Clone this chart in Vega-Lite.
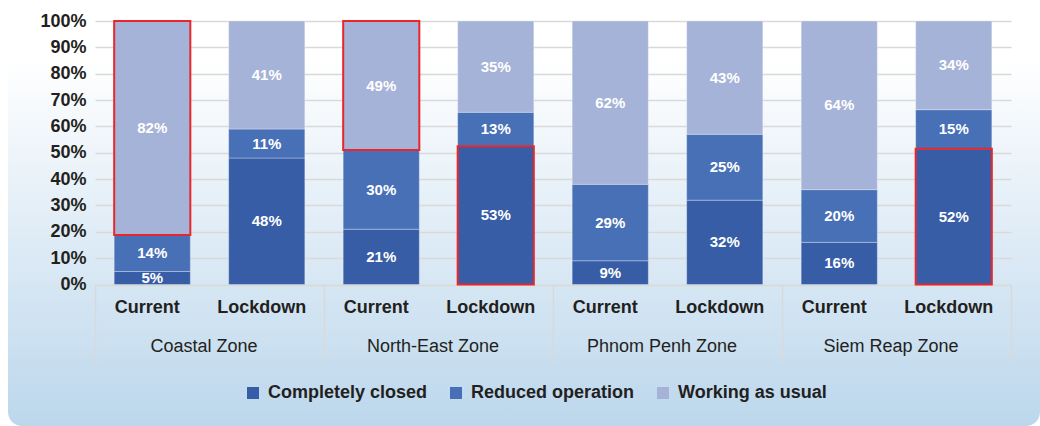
{
  "$schema": "https://vega.github.io/schema/vega-lite/v6.json",
  "width": 1032,
  "height": 426,
  "autosize": {"type": "none"},
  "padding": {"left": 8, "top": 0, "right": 0, "bottom": 0},
  "background": "#ffffff",
  "config": {
    "font": "Liberation Sans",
    "view": {
      "stroke": null,
      "cornerRadius": 14,
      "fill": {
        "gradient": "linear", "x1": 0, "y1": 0, "x2": 0, "y2": 1,
        "stops": [
          {"offset": 0, "color": "#ffffff"},
          {"offset": 0.14, "color": "#ffffff"},
          {"offset": 1, "color": "#bcd7ec"}
        ]
      }
    }
  },
  "data": {
    "values": [
      {"zone": "Coastal Zone", "type": "Current", "key": "Coastal Zone|Current", "status": "Completely closed", "share": 0.05, "hl": false},
      {"zone": "Coastal Zone", "type": "Current", "key": "Coastal Zone|Current", "status": "Reduced operation", "share": 0.14, "hl": false},
      {"zone": "Coastal Zone", "type": "Current", "key": "Coastal Zone|Current", "status": "Working as usual", "share": 0.82, "hl": true},
      {"zone": "Coastal Zone", "type": "Lockdown", "key": "Coastal Zone|Lockdown", "status": "Completely closed", "share": 0.48, "hl": false},
      {"zone": "Coastal Zone", "type": "Lockdown", "key": "Coastal Zone|Lockdown", "status": "Reduced operation", "share": 0.11, "hl": false},
      {"zone": "Coastal Zone", "type": "Lockdown", "key": "Coastal Zone|Lockdown", "status": "Working as usual", "share": 0.41, "hl": false},
      {"zone": "North-East Zone", "type": "Current", "key": "North-East Zone|Current", "status": "Completely closed", "share": 0.21, "hl": false},
      {"zone": "North-East Zone", "type": "Current", "key": "North-East Zone|Current", "status": "Reduced operation", "share": 0.30, "hl": false},
      {"zone": "North-East Zone", "type": "Current", "key": "North-East Zone|Current", "status": "Working as usual", "share": 0.49, "hl": true},
      {"zone": "North-East Zone", "type": "Lockdown", "key": "North-East Zone|Lockdown", "status": "Completely closed", "share": 0.53, "hl": true},
      {"zone": "North-East Zone", "type": "Lockdown", "key": "North-East Zone|Lockdown", "status": "Reduced operation", "share": 0.13, "hl": false},
      {"zone": "North-East Zone", "type": "Lockdown", "key": "North-East Zone|Lockdown", "status": "Working as usual", "share": 0.35, "hl": false},
      {"zone": "Phnom Penh Zone", "type": "Current", "key": "Phnom Penh Zone|Current", "status": "Completely closed", "share": 0.09, "hl": false},
      {"zone": "Phnom Penh Zone", "type": "Current", "key": "Phnom Penh Zone|Current", "status": "Reduced operation", "share": 0.29, "hl": false},
      {"zone": "Phnom Penh Zone", "type": "Current", "key": "Phnom Penh Zone|Current", "status": "Working as usual", "share": 0.62, "hl": false},
      {"zone": "Phnom Penh Zone", "type": "Lockdown", "key": "Phnom Penh Zone|Lockdown", "status": "Completely closed", "share": 0.32, "hl": false},
      {"zone": "Phnom Penh Zone", "type": "Lockdown", "key": "Phnom Penh Zone|Lockdown", "status": "Reduced operation", "share": 0.25, "hl": false},
      {"zone": "Phnom Penh Zone", "type": "Lockdown", "key": "Phnom Penh Zone|Lockdown", "status": "Working as usual", "share": 0.43, "hl": false},
      {"zone": "Siem Reap Zone", "type": "Current", "key": "Siem Reap Zone|Current", "status": "Completely closed", "share": 0.16, "hl": false},
      {"zone": "Siem Reap Zone", "type": "Current", "key": "Siem Reap Zone|Current", "status": "Reduced operation", "share": 0.20, "hl": false},
      {"zone": "Siem Reap Zone", "type": "Current", "key": "Siem Reap Zone|Current", "status": "Working as usual", "share": 0.64, "hl": false},
      {"zone": "Siem Reap Zone", "type": "Lockdown", "key": "Siem Reap Zone|Lockdown", "status": "Completely closed", "share": 0.52, "hl": true},
      {"zone": "Siem Reap Zone", "type": "Lockdown", "key": "Siem Reap Zone|Lockdown", "status": "Reduced operation", "share": 0.15, "hl": false},
      {"zone": "Siem Reap Zone", "type": "Lockdown", "key": "Siem Reap Zone|Lockdown", "status": "Working as usual", "share": 0.34, "hl": false}
    ]
  },
  "layer": [
    {
      "layer": [
        {
          "mark": {"type": "bar", "stroke": "#ffffff", "strokeOpacity": 0.3, "strokeWidth": 1},
          "encoding": {
            "x": {
              "field": "key", "type": "nominal", "sort": null,
              "scale": {"range": [87, 1003], "paddingInner": 0.335, "paddingOuter": 0.1675},
              "axis": {
                "orient": "bottom", "offset": -141, "title": null,
                "labelExpr": "split(datum.value, '|')[1]", "labelAngle": 0, "labelOffset": -5,
                "labelFontSize": 18, "labelFontWeight": "bold", "labelColor": "#231f20",
                "labelPadding": 13, "ticks": false, "domainColor": "#d9d9d9", "domainWidth": 1.5, "grid": false
              }
            },
            "y": {
              "field": "share", "type": "quantitative", "stack": "normalize",
              "scale": {"domain": [-0.537, 1.0797], "nice": false, "zero": false},
              "axis": {
                "values": [0, 0.1, 0.2, 0.3, 0.4, 0.5, 0.6, 0.7, 0.8, 0.9, 1.0],
                "format": ".0%", "title": null, "orient": "left", "offset": -80,
                "ticks": false, "domain": false, "labelPadding": 2,
                "labelFontSize": 18, "labelFontWeight": "bold", "labelColor": "#231f20",
                "grid": true, "gridColor": "#d9d9d9", "gridWidth": 1.5
              }
            },
            "order": {"field": "status", "sort": "ascending"},
            "color": {
              "field": "status", "type": "nominal",
              "scale": {
                "domain": ["Completely closed", "Reduced operation", "Working as usual"],
                "range": ["#365da5", "#4870b7", "#a6b3d8"]
              },
              "legend": {
                "orient": "none", "legendX": 236, "legendY": 384, "direction": "horizontal",
                "title": null, "symbolType": "square", "symbolSize": 144, "symbolStrokeWidth": 0,
                "labelFontSize": 18, "labelFontWeight": "bold", "labelColor": "#231f20",
                "labelOffset": 6, "columnPadding": 19, "padding": 0, "labelLimit": 400
              }
            }
          }
        },
        {
          "mark": {"type": "text", "color": "#ffffff", "fontSize": 15, "fontWeight": "bold"},
          "encoding": {
            "x": {"field": "key", "type": "nominal", "sort": null},
            "y": {"field": "share", "type": "quantitative", "stack": "normalize", "bandPosition": 0.5},
            "order": {"field": "status", "sort": "ascending"},
            "detail": {"field": "status"},
            "text": {"field": "share", "type": "quantitative", "format": ".0%"}
          }
        },
        {
          "mark": {"type": "bar", "fillOpacity": 0, "stroke": "#e8262b", "strokeWidth": 2},
          "encoding": {
            "x": {"field": "key", "type": "nominal", "sort": null},
            "y": {"field": "share", "type": "quantitative", "stack": "normalize"},
            "order": {"field": "status", "sort": "ascending"},
            "detail": {"field": "status"},
            "strokeOpacity": {"condition": {"test": "datum.hl", "value": 1}, "value": 0}
          }
        }
      ]
    },
    {
      "mark": {"type": "point", "opacity": 0},
      "encoding": {
        "x": {
          "field": "zone", "type": "nominal", "sort": null,
          "scale": {"range": [87, 1003], "padding": 0},
          "axis": {
            "orient": "bottom", "offset": -141, "title": null, "labelAngle": 0, "labelOffset": -6,
            "labelFontSize": 18, "labelFontWeight": "normal", "labelColor": "#231f20",
            "labelPadding": -23, "domain": false, "ticks": true, "tickBand": "extent",
            "tickSize": 75, "tickColor": "#d9d9d9", "tickWidth": 1.5, "grid": false
          }
        }
      }
    }
  ],
  "resolve": {"scale": {"x": "independent"}, "axis": {"x": "independent"}}
}
